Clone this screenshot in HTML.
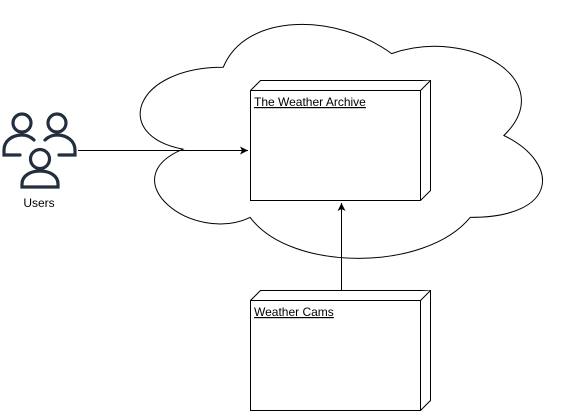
<!DOCTYPE html>
<html><head><meta charset="utf-8"><style>
html,body{margin:0;padding:0;background:#fff;width:561px;height:412px;overflow:hidden}
</style></head><body>
<svg width="561" height="412" xmlns="http://www.w3.org/2000/svg" style="position:absolute;left:0;top:0">
<defs><marker id="ah" markerWidth="10" markerHeight="10" refX="8" refY="4" orient="auto" markerUnits="userSpaceOnUse"><path d="M0,0 L8,4 L0,8 L2,4 Z" fill="#000"/></marker></defs>
<path d="M223.25,67.25 C133.45,67.25 111,135.5 182.84,149.15 C111,179.18 191.82,244.7 250.19,217.4 C290.6,272 425.3,272 470.2,217.4 C560,217.4 560,162.8 503.88,135.5 C560,80.9 470.2,26.3 391.63,53.6 C335.5,12.65 245.7,12.65 223.25,67.25 Z" fill="#fff" stroke="#000" stroke-width="1"/>
<g fill="#fff" stroke="#000" stroke-width="1">
<path d="M250.5,90.5 L260.5,80.5 L430.5,80.5 L430.5,190.5 L420.5,200.5 L250.5,200.5 Z"/>
<path d="M250.5,90.5 L420.5,90.5 L430.5,80.5 M420.5,90.5 L420.5,200.5"/>
<path d="M250.5,300.5 L260.5,290.5 L430.5,290.5 L430.5,400.5 L420.5,410.5 L250.5,410.5 Z"/>
<path d="M250.5,300.5 L420.5,300.5 L430.5,290.5 M420.5,300.5 L420.5,410.5"/>
</g>
<line x1="78" y1="150.5" x2="248" y2="150.5" stroke="#000" marker-end="url(#ah)"/>
<line x1="341.5" y1="290" x2="341.5" y2="203" stroke="#000" marker-end="url(#ah)"/>
<g fill="none" stroke="#232f3e" stroke-width="3.2" stroke-linecap="round">
<circle cx="22" cy="123" r="9"/>
<circle cx="57" cy="123" r="9"/>
<circle cx="40" cy="159" r="9.5"/>
<path d="M20,155 L4,155 L4,150 C4,141 12,135 22,135 C27,135 31,137 34,140"/>
<path d="M59,155 L75,155 L75,150 C75,141 67,135 57,135 C52,135 48,137 45,140"/>
<path d="M22,187 L58,187 L58,184 C58,176 50,171 40,171 C30,171 22,176 22,184 Z"/>
</g>
<g font-family="Liberation Sans, Arial, sans-serif" font-size="12" fill="#000">
<text x="39" y="207" text-anchor="middle">Users</text>
<text x="254" y="106" text-decoration="underline">The Weather Archive</text>
<text x="254" y="316" text-decoration="underline">Weather Cams</text>
</g>
</svg>
</body></html>
